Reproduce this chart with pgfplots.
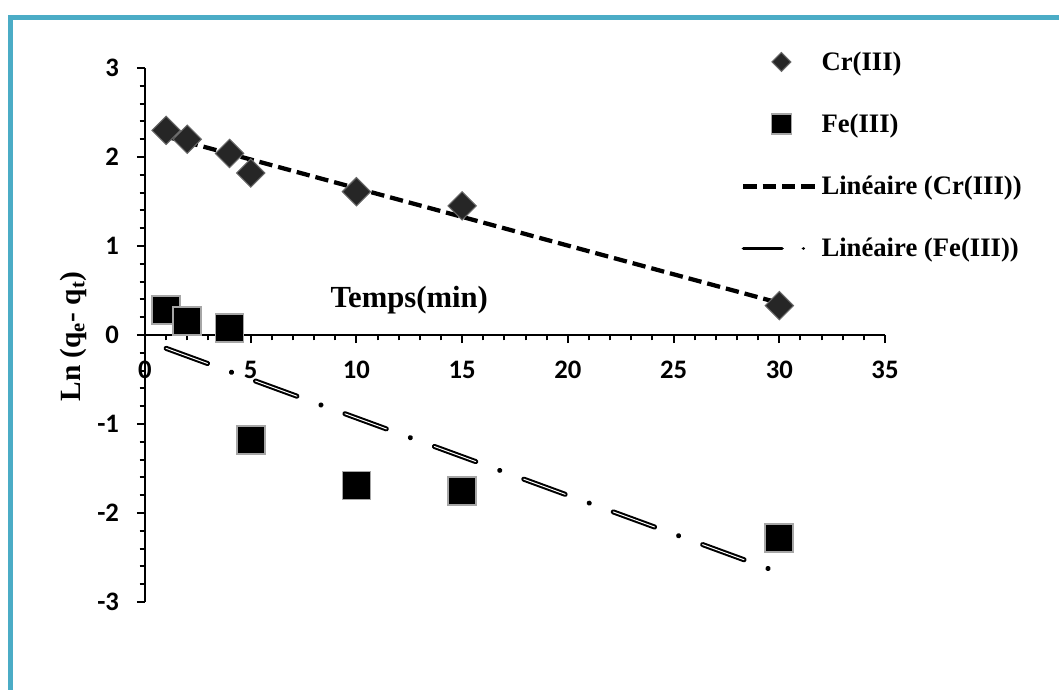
\documentclass[border=0pt]{standalone}
\usepackage{pgfplots}
\pgfplotsset{compat=1.18}
\usepackage{fontspec}
\setmainfont{Liberation Serif}
\newfontfamily\carlito{Carlito}
\definecolor{frameblue}{HTML}{4BACC6}
\pgfplotsset{
  crleg/.style={legend image code/.code={\draw[mark repeat=2,mark phase=2,##1,mark size=5pt] plot coordinates {(0pt,0pt)(28.5pt,0pt)(55pt,0pt)};}},
  feleg/.style={legend image code/.code={\draw[mark repeat=2,mark phase=2,##1,mark size=7.5pt] plot coordinates {(0pt,0pt)(28.5pt,0pt)(55pt,0pt)};}},
  crline/.style={legend image code/.code={\draw[##1] (0pt,0pt) -- (55pt,0pt);}},
  feline/.style={legend image code/.code={\draw[black, line width=2.6pt, line cap=round, dash pattern=on 29pt off 16pt on 0.01pt off 20pt] (0pt,0pt) -- (45.01pt,0pt);}},
}
\begin{document}
\begin{tikzpicture}[x=1pt,y=1pt]
\useasboundingbox (0,0) rectangle (794.25,516.75);
\draw[frameblue, line width=3.75pt] (7.5,-10) -- (7.5,503.25) -- (810,503.25);
\begin{axis}[
  at={(108.75pt,65.25pt)}, anchor=south west,
  scale only axis, width=555pt, height=400.5pt,
  xmin=0, xmax=35, ymin=-3, ymax=3,
  axis lines=middle,
  hide obscured x ticks=false, hide obscured y ticks=false,
  axis line style={-, line width=1.8pt},
  xtick={0,5,...,35}, ytick={-3,-2,...,3},
  minor x tick num=4, minor y tick num=4,
  tick align=outside,
  major tick length=6pt, minor tick length=4pt,
  every tick/.style={black, line width=1.5pt},
  /pgf/number format/assume math mode=true,
  ticklabel style={font=\carlito\bfseries\fontsize{20}{20}\selectfont},
  xticklabel style={anchor=center, yshift=-20pt},
  yticklabel style={anchor=east, xshift=-10pt},
  xlabel={Temps(min)},
  ylabel={Ln (q\textsubscript{e}- q\textsubscript{t})},
  every axis x label/.style={at={(axis description cs:0.357,0.566)}, anchor=center, font=\bfseries\fontsize{23}{23}\selectfont},
  every axis y label/.style={at={(axis description cs:-0.097,0.497)}, rotate=90, anchor=center, font=\bfseries\fontsize{22}{22}\selectfont},
  legend style={draw=none, fill=none, at={(axis description cs:0.800,1.041)}, anchor=north west,
    font=\bfseries\fontsize{20}{20}\selectfont, row sep=27.3pt, cells={anchor=west}},
  clip=false,
]
\addplot[only marks, mark=square*, mark size=7.5pt,
  mark options={rotate=45, fill=black!85, draw=black!60, line width=0.8pt}, crleg]
  coordinates {(1,2.30) (2,2.20) (4,2.04) (5,1.82) (10,1.61) (15,1.45) (30,0.33)};
\addlegendentry{Cr(III)}
\addplot[only marks, mark=square*, mark size=10.5pt,
  mark options={fill=black, draw=gray!70, line width=1.3pt}, feleg]
  coordinates {(1,0.28) (2,0.16) (4,0.08) (5,-1.18) (10,-1.69) (15,-1.75) (30,-2.28)};
\addlegendentry{Fe(III)}
\addplot[black, line width=3.2pt, dash pattern=on 10pt off 4.5pt, crline]
  coordinates {(1,2.23) (30,0.36)};
\addlegendentry{Linéaire (Cr(III))}
\addplot[black, line width=3.8pt, line cap=round, dash pattern=on 33pt off 19.2pt on 0.01pt off 19.2pt, feline]
  coordinates {(1,-0.15) (30,-2.67)};
\addlegendentry{Linéaire (Fe(III))}
\addplot[white, line width=0.75pt, line cap=round, dash pattern=on 33pt off 38.41pt, forget plot]
  coordinates {(1,-0.15) (30,-2.67)};
\end{axis}
\end{tikzpicture}
\end{document}
